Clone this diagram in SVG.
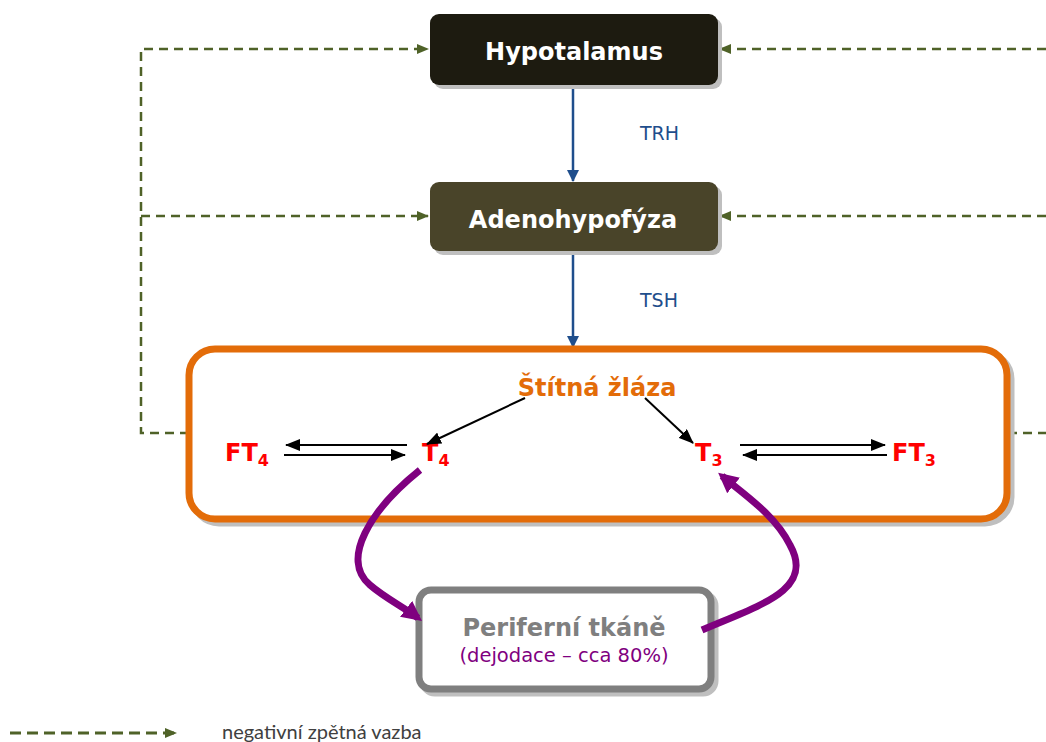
<svg xmlns="http://www.w3.org/2000/svg" width="1046" height="742" viewBox="0 0 1046 742">
  <defs>
    <marker id="fb" viewBox="0 0 12 10" refX="11" refY="5" markerWidth="12" markerHeight="10" markerUnits="userSpaceOnUse" orient="auto">
      <path d="M0,0 L12,5 L0,10 z" fill="#4f6228"/>
    </marker>
    <marker id="blue" viewBox="0 0 12 12" refX="11" refY="6" markerWidth="12" markerHeight="12" markerUnits="userSpaceOnUse" orient="auto">
      <path d="M0,0 L12,6 L0,12 z" fill="#1f4e8c"/>
    </marker>
    <marker id="blk" viewBox="0 0 15 12" refX="14" refY="6" markerWidth="15" markerHeight="12" markerUnits="userSpaceOnUse" orient="auto">
      <path d="M0,0 L15,6 L0,12 z" fill="#000"/>
    </marker>
    <marker id="pur" viewBox="0 0 8 8" refX="6" refY="4" markerWidth="20" markerHeight="20" markerUnits="userSpaceOnUse" orient="auto">
      <path d="M0,0 L8,4 L0,8 z" fill="#7f007f"/>
    </marker>
    <style>
      .fb { fill: none; stroke: #4f6228; stroke-width: 2.5; stroke-dasharray: 9 6; }
      .hor { fill: none; stroke: #1f4e8c; stroke-width: 2.5; }
      .blk { fill: none; stroke: #000; stroke-width: 2; }
      .pur { fill: none; stroke: #7f007f; stroke-width: 7; }
      .shadow { fill: #bfbfbf; }
      .title { font-family: "DejaVu Sans", Verdana, sans-serif; font-weight: bold; font-size: 24px; text-anchor: middle; }
      .hl { font-family: "DejaVu Sans", Verdana, sans-serif; font-size: 19px; fill: #1f4e8c; }
      .hormone { font-family: "DejaVu Sans", Verdana, sans-serif; font-weight: bold; font-size: 24px; fill: #ff0000; }
      .sub { font-size: 16px; }
    </style>
  </defs>

  <!-- negative feedback connectors -->
  <g id="connectors">
    <path class="fb" d="M189,433 H141 V49 H428" marker-end="url(#fb)"/>
    <path class="fb" d="M141,216 H428" marker-end="url(#fb)"/>
    <path class="fb" d="M1046,49 H720" marker-end="url(#fb)"/>
    <path class="fb" d="M1046,216 H720" marker-end="url(#fb)"/>
    <path class="fb" d="M1008,433 H1046"/>

    <!-- hormone axis -->
    <line class="hor" x1="573" y1="85" x2="573" y2="181" marker-end="url(#blue)"/>
    <line class="hor" x1="573" y1="251" x2="573" y2="347" marker-end="url(#blue)"/>
    <text class="hl" x="640" y="140">TRH</text>
    <text class="hl" x="640" y="307">TSH</text>
  </g>

  <g id="hypotalamus">
    <rect class="shadow" x="434" y="18" width="288" height="71" rx="9"/>
    <rect x="430" y="14" width="288" height="71" rx="9" fill="#1d1b10"/>
    <text class="title" x="574" y="60" fill="#fff">Hypotalamus</text>
  </g>

  <g id="adenohypofyza">
    <rect class="shadow" x="434" y="186" width="288" height="69" rx="9"/>
    <rect x="430" y="182" width="288" height="69" rx="9" fill="#494429"/>
    <text class="title" x="573" y="228" fill="#fff">Adenohypofýza</text>
  </g>

  <g id="stitna-zlaza">
    <rect x="193" y="353" width="818" height="170" rx="26" fill="none" stroke="#bfbfbf" stroke-width="7"/>
    <rect x="189" y="349" width="818" height="170" rx="26" fill="#fff" stroke="#e36c09" stroke-width="7"/>
    <text class="title" x="597" y="396" fill="#e36c09">Štítná žláza</text>
  </g>

  <g id="ft4"><text class="hormone" x="225" y="461">FT<tspan class="sub" dy="5">4</tspan></text></g>
  <g id="t4"><text class="hormone" x="422" y="461">T<tspan class="sub" dy="5">4</tspan></text></g>
  <g id="t3"><text class="hormone" x="695" y="461">T<tspan class="sub" dy="5">3</tspan></text></g>
  <g id="ft3"><text class="hormone" x="892" y="461">FT<tspan class="sub" dy="5">3</tspan></text></g>

  <g id="periferni-tkane">
    <rect x="423" y="594" width="292" height="99" rx="12" fill="none" stroke="#bfbfbf" stroke-width="7"/>
    <rect x="419" y="590" width="292" height="99" rx="12" fill="#fff" stroke="#7f7f7f" stroke-width="7"/>
    <text class="title" x="564" y="636" fill="#7f7f7f">Periferní tkáně</text>
    <text x="564" y="662" font-family="DejaVu Sans, Verdana, sans-serif" font-size="19.5" fill="#7f007f" text-anchor="middle">(dejodace – cca 80%)</text>
  </g>

  <g id="links">
    <line class="blk" x1="525" y1="398" x2="427" y2="444" marker-end="url(#blk)"/>
    <line class="blk" x1="645" y1="398" x2="693" y2="443" marker-end="url(#blk)"/>
    <line class="blk" x1="407" y1="445" x2="286" y2="445" marker-end="url(#blk)"/>
    <line class="blk" x1="284" y1="455" x2="405" y2="455" marker-end="url(#blk)"/>
    <line class="blk" x1="740" y1="445" x2="885" y2="445" marker-end="url(#blk)"/>
    <line class="blk" x1="887" y1="455" x2="743" y2="455" marker-end="url(#blk)"/>
    <path class="pur" d="M420,470 C370,510 340,560 370,585 C385,598 405,608 418,618" marker-end="url(#pur)"/>
    <path class="pur" d="M702,630 C760,605 815,590 790,545 C775,515 745,495 722,476" marker-end="url(#pur)"/>
  </g>

  <g id="legend">
    <line x1="10" y1="733" x2="176" y2="733" fill="none" stroke="#4f6228" stroke-width="3" stroke-dasharray="11 6" marker-end="url(#fb)"/>
    <text x="222" y="739" font-family="Lato, 'Open Sans', sans-serif" font-size="20" fill="#404040">negativní zpětná vazba</text>
  </g>
</svg>
